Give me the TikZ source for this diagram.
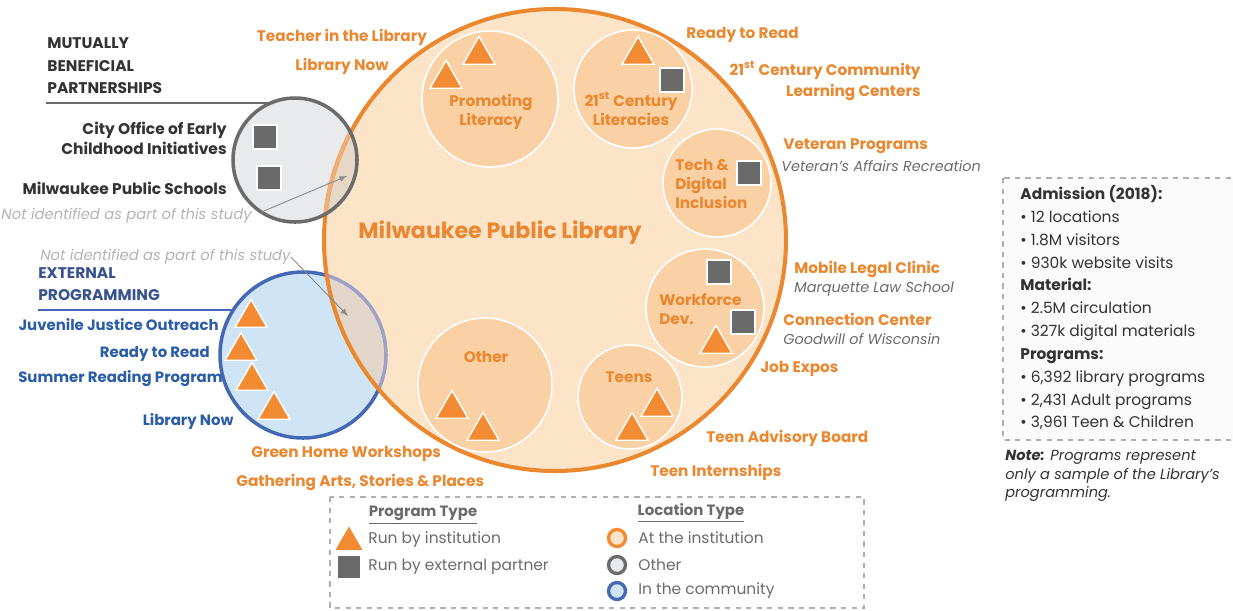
\documentclass[tikz,border=0pt]{standalone}
\usepackage{fontspec}
\setmainfont{Poppins}
\usetikzlibrary{arrows,shapes.geometric}

\tikzset{
  olbl/.style={text=libor, font=\bfseries\fontsize{8.7}{12.5}\selectfont, inner sep=0pt},
  inlbl/.style={olbl, font=\bfseries\fontsize{8.7}{10.8}\selectfont},
  dlbl/.style={text=txtdark, font=\bfseries\fontsize{8.8}{12.8}\selectfont, inner sep=0pt},
  blbl/.style={text=txtblue, font=\bfseries\fontsize{8.5}{12.5}\selectfont, inner sep=0pt},
  partner/.style={text=txtgray, font=\itshape\fontsize{8.2}{10}\selectfont, inner sep=0pt},
  nostudy/.style={text=txtlight, font=\itshape\fontsize{8.4}{10}\selectfont, inner sep=0pt},
  prog/.style={regular polygon, regular polygon sides=3, minimum size=0.74cm, inner sep=0pt, fill=triorange, draw=white, line width=0.8pt},
  partn/.style={rectangle, minimum size=0.48cm, inner sep=0pt, fill=sqgray, draw=white, line width=0.8pt},
  hub/.style={fill=hubfill, draw=white, line width=0.9pt},
  ptr/.style={-latex, draw=arrgray, line width=0.5pt},
  dashbox/.style={draw=boxgray, dashed, line width=0.6pt},
  legtxt/.style={text=txtgray, font=\fontsize{8.8}{10}\selectfont, inner sep=0pt},
  leghead/.style={text=txtgray, font=\bfseries\fontsize{8.5}{10}\selectfont, inner sep=0pt},
  loc/.style={circle, minimum size=0.34cm, inner sep=0pt, line width=1.9pt}
}

\begin{document}
\begin{tikzpicture}[x=0.02cm,y=-0.02cm]
    \definecolor{libor}{HTML}{EB872F}
    \definecolor{libfill}{HTML}{FCE4C9}
    \definecolor{hubfill}{HTML}{F9D1A5}
    \definecolor{triorange}{HTML}{F28B32}
    \definecolor{sqgray}{HTML}{6A6A6A}
    \definecolor{txtdark}{HTML}{333333}
    \definecolor{txtgray}{HTML}{6B6B6B}
    \definecolor{txtlight}{HTML}{B4B4B4}
    \definecolor{txtblue}{HTML}{2B5CA8}
    \definecolor{combl}{HTML}{4468B4}
    \definecolor{comfill}{HTML}{CFE5F5}
    \definecolor{othdraw}{HTML}{6B6B6B}
    \definecolor{othfill}{HTML}{E9EAEB}
    \definecolor{tanoth}{HTML}{E7D7C7}
    \definecolor{tancom}{HTML}{E3D6CA}
    \definecolor{combldim}{HTML}{9DA1C5}
    \definecolor{ordim}{HTML}{F0AE74}
    \definecolor{arrgray}{HTML}{8A8A8A}
    \definecolor{boxgray}{HTML}{B0B0B0}
    \useasboundingbox (0,0) rectangle (1233,610);
    %location circles
    \fill[comfill] (303,355) circle (83);
    \draw[combl, line width=2pt] (303,355) circle (83);
    \fill[othfill] (295,160) circle (62);
    \fill[libfill] (555,240) circle (231);
    \begin{scope}
        \clip (555,240) circle (231);
        \fill[tancom] (303,355) circle (83);
        \draw[combldim, line width=2pt] (303,355) circle (83);
        \fill[tanoth] (295,160) circle (62);
    \end{scope}
    \draw[libor, line width=2.3pt] (555,240) circle (231);
    \begin{scope}
        \clip (295,160) circle (62);
        \draw[ordim, line width=2.3pt] (555,240) circle (231);
    \end{scope}
    \draw[othdraw, line width=2pt] (295,160) circle (62);
    %hubs inside the library
    \draw[hub] (490,99) circle (68);
    \draw[hub] (633,89) circle (59);
    \draw[hub] (717,183) circle (54);
    \draw[hub] (705,308) circle (59);
    \draw[hub] (630,397) circle (52);
    \draw[hub] (485,385) circle (67);
    \node[inlbl, align=center] (hlit) at (491,112) {Promoting\\Literacy};
    \node[inlbl, align=center] (hcent) at (631,109) {21\textsuperscript{st} Century\\Literacies};
    \node[inlbl, align=left, anchor=west] (htech) at (675,184) {Tech \&\\Digital\\Inclusion};
    \node[inlbl, align=left, anchor=west] (hwork) at (659,309) {Workforce\\Dev.};
    \node[inlbl] (hteen) at (629,377) {Teens};
    \node[inlbl] (hoth) at (486,357) {Other};
    %programs
    \node[prog] (p1) at (446,79) {};
    \node[prog] (p2) at (479,55) {};
    \node[prog] (p3) at (638,55) {};
    \node[partn] (s1) at (672,80) {};
    \node[partn] (s2) at (749,173) {};
    \node[partn] (s3) at (719,272) {};
    \node[partn] (s4) at (743,322) {};
    \node[prog] (p4) at (716,344) {};
    \node[prog] (p5) at (657,407) {};
    \node[prog] (p6) at (632,431) {};
    \node[prog] (p7) at (452,409) {};
    \node[prog] (p8) at (483,431) {};
    \node[partn] (s5) at (265,137) {};
    \node[partn] (s6) at (269,178) {};
    \node[prog] (p9) at (251,318) {};
    \node[prog] (p10) at (241,351) {};
    \node[prog] (p11) at (252,381) {};
    \node[prog] (p12) at (274,410) {};
    \node[olbl, font=\bfseries\fontsize{12.6}{15}\selectfont] (mpl) at (500,233) {Milwaukee Public Library};
    %labels round the library
    \node[olbl] (teach) at (342,37) {Teacher in the Library};
    \node[olbl] (now1) at (342,66) {Library Now};
    \node[olbl, anchor=west] (ready1) at (686,35) {Ready to Read};
    \node[olbl, anchor=east, align=right] (cclc) at (921,81) {21\textsuperscript{st} Century Community\\Learning Centers};
    \node[olbl, anchor=west] (vet) at (783,146) {Veteran Programs};
    \node[partner, anchor=west] (vetp) at (781,166) {Veteran's Affairs Recreation};
    \node[olbl, anchor=west] (legal) at (794,269) {Mobile Legal Clinic};
    \node[partner, anchor=west] (legalp) at (794,289) {Marquette Law School};
    \node[olbl, anchor=west] (conn) at (783,319) {Connection Center};
    \node[partner, anchor=west] (connp) at (783,339) {Goodwill of Wisconsin};
    \node[olbl, anchor=west] (jobs) at (760,369) {Job Expos};
    \node[olbl, anchor=west] (board) at (706,438) {Teen Advisory Board};
    \node[olbl, anchor=west] (intern) at (650,472) {Teen Internships};
    \node[olbl, anchor=west] (green) at (251,454) {Green Home Workshops};
    \node[olbl, anchor=west] (gather) at (236,482) {Gathering Arts, Stories \& Places};
    %partnerships
    \node[dlbl, anchor=west, align=left] (mbp) at (47,66) {MUTUALLY\\BENEFICIAL\\PARTNERSHIPS};
    \draw[othdraw, line width=0.6pt] (46,103) -- (270,103);
    \node[dlbl, anchor=east, align=right, font=\bfseries\fontsize{8.8}{11.3}\selectfont] (coei) at (227,138) {City Office of Early\\Childhood Initiatives};
    \node[dlbl, anchor=east] (mps) at (227,188) {Milwaukee Public Schools};
    \node[nostudy, anchor=east] (nis1) at (252,216) {Not identified as part of this study};
    \coordinate (nis1end) at (347,176);
    \draw[ptr, shorten <=0.2cm] (nis1.east) -- (nis1end);
    %external programming
    \node[nostudy, anchor=west] (nis2) at (40,257) {Not identified as part of this study};
    \coordinate (nis2end) at (348,316);
    \draw[ptr] (nis2.east) -- (nis2end);
    \node[blbl, anchor=west, align=left, text=combl!80!black, font=\bfseries\fontsize{8.8}{12.5}\selectfont] (ext) at (38,284) {EXTERNAL\\PROGRAMMING};
    \draw[combl, line width=0.8pt] (38,310) -- (233,310);
    \node[blbl, anchor=east] (juv) at (219,325) {Juvenile Justice Outreach};
    \node[blbl, anchor=east] (ready2) at (210,354) {Ready to Read};
    \node[blbl, anchor=east] (summer) at (223,379) {Summer Reading Program};
    \node[blbl, anchor=east] (now2) at (234,421) {Library Now};
    %facts box
    \draw[dashbox, fill=gray!3] (1003,178) rectangle (1245,440);
    \node[anchor=north west, align=left, inner sep=0pt, text=txtdark, font=\fontsize{8.8}{13}\selectfont] (facts) at (1020,185) {\textbf{Admission (2018):}\\• 12 locations\\• 1.8M visitors\\• 930k website visits\\\textbf{Material:}\\• 2.5M circulation\\• 327k digital materials\\\textbf{Programs:}\\• 6,392 library programs\\• 2,431 Adult programs\\• 3,961 Teen \& Children};
    \node[anchor=north west, align=left, inner sep=0pt, text=txtdark, font=\itshape\fontsize{8.3}{10.5}\selectfont] (note) at (1005,450) {\textbf{Note:} Programs represent\\only a sample of the Library's\\programming.};
    %legend
    \draw[dashbox] (330,497) rectangle (864,608);
    \node[leghead] (ptype) at (423,515) {\underline{Program Type}};
    \node[prog, minimum size=0.62cm, draw=none] (ltri) at (349,542) {};
    \node[legtxt, anchor=west] (lrun) at (368,540) {Run by institution};
    \node[partn, minimum size=0.44cm, draw=none] (lsq) at (349,567) {};
    \node[legtxt, anchor=west] (lext) at (368,567) {Run by external partner};
    \node[leghead] (ltype) at (691,513) {\underline{Location Type}};
    \node[loc, draw=triorange, fill=libfill] (lat) at (617,538) {};
    \node[legtxt, anchor=west] (latt) at (638,538) {At the institution};
    \node[loc, draw=othdraw, fill=othfill] (loth) at (617,565) {};
    \node[legtxt, anchor=west] (lotht) at (638,565) {Other};
    \node[loc, draw=combl, fill=comfill] (lcom) at (617,591) {};
    \node[legtxt, anchor=west] (lcomt) at (638,591) {In the community};
\end{tikzpicture}
\end{document}
